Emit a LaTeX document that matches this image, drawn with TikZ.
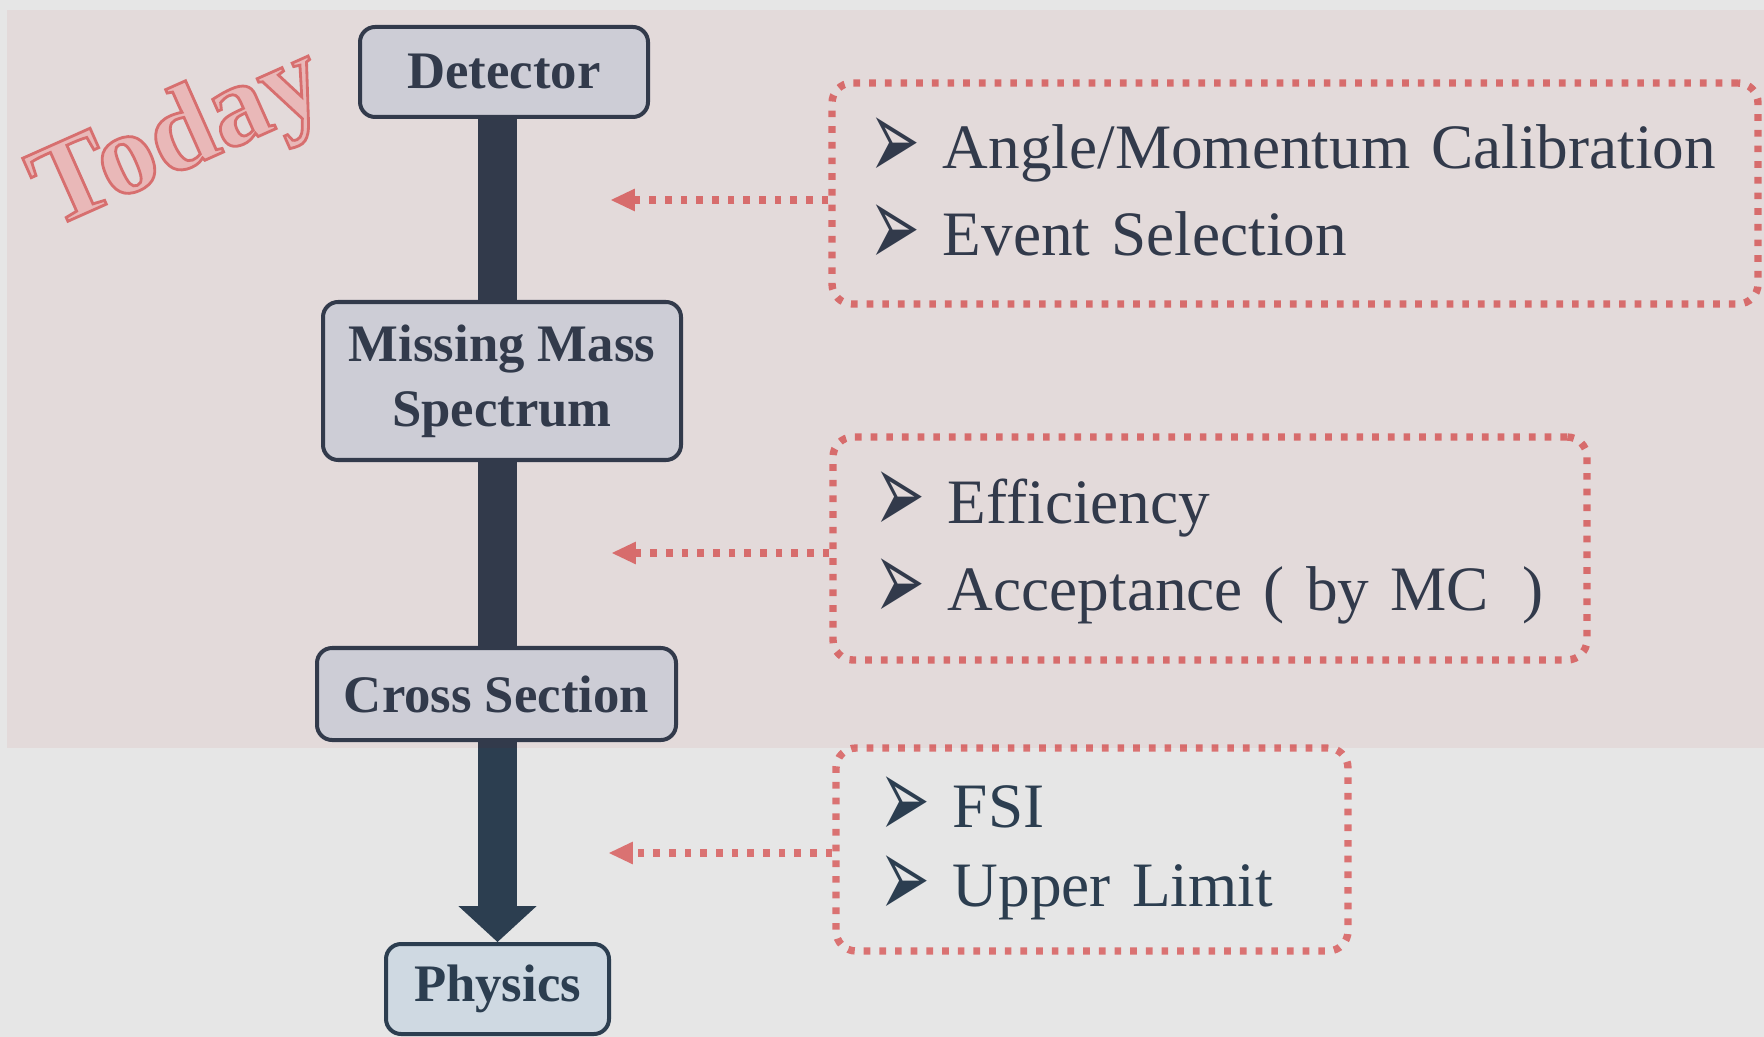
\documentclass[tikz,border=0pt]{standalone}
\usepackage{fontspec}
\usepackage{graphicx}
\setmainfont{Liberation Serif}
\newfontfamily\dingfont{DejaVu Sans}
\usetikzlibrary{arrows.meta,backgrounds}

\definecolor{ink}{HTML}{2C3E50}
\definecolor{boxfill}{HTML}{CFD9E2}
\definecolor{paper}{HTML}{E6E6E6}
\definecolor{hint}{HTML}{DA7272}
\definecolor{tint}{RGB}{173,0,0}

% arrowhead bullet for the note lists
\newcommand{\bitem}[1]{\mbox{\makebox[19.3pt][l]{\hspace*{-1.5pt}\raisebox{-3.1pt}{\scalebox{1.15}[2.2]{\dingfont\fontsize{15pt}{15pt}\selectfont ➢}}}#1}}
% outlined lettering (fill + stroke render mode)
\newcommand{\hollow}[1]{\special{pdf:literal direct 2 Tr 0.8 w 0.855 0.46 0.46 RG 0.93 0.76 0.76 rg}#1\special{pdf:literal direct 0 Tr}}

\begin{document}
\begin{tikzpicture}[
   stagebox/.style={draw=ink,line width=1.14pt,fill=boxfill,rounded corners=4.3pt,
     text=ink,font=\bfseries\fontsize{15pt}{18.5pt}\selectfont,align=center,inner sep=0pt},
   notebox/.style={draw=hint,line width=2.1pt,dash pattern=on 1.9pt off 2.56pt,
     rounded corners=5.7pt,text=ink,font=\fontsize{18pt}{24.75pt}\selectfont,
     align=left,inner ysep=0pt},
   hintarrow/.style={hint,line width=2.1pt,dash pattern=on 1.9pt off 2.56pt,
     -{Triangle[length=6.8pt,width=6.5pt,line width=0pt]}},
   flow/.style={ink,line width=11.1pt,-{Triangle[length=10.2pt,width=22.2pt,line width=0pt]}}]
  \useasboundingbox (0,0) rectangle (17.64,-10.37);
  \begin{scope}[on background layer]
    \fill[paper] (0,0) rectangle (17.64,-10.37);
  \end{scope}
  % analysis chain
  \node[stagebox,minimum width=2.88cm,minimum height=0.90cm] (detector) at (5.04,-0.72) {Detector};
  \node[stagebox,minimum width=3.58cm,minimum height=1.58cm] (spectrum) at (5.02,-3.81) {Missing Mass\\Spectrum};
  \node[stagebox,minimum width=3.59cm,minimum height=0.92cm] (xsec) at (4.965,-6.94) {Cross Section};
  \node[stagebox,minimum width=2.23cm,minimum height=0.90cm] (physics) at (4.975,-9.89) {Physics};
  \begin{scope}[on background layer]
    \draw[flow] (detector.south -| physics.north) -- (physics.north);
  \end{scope}
  % notes
  \node[notebox,text width=8.40cm,inner xsep=0.43cm,minimum height=2.21cm] (calib) at (12.95,-1.935)
    {\bitem{Angle/Momentum Calibration}\\\bitem{Event Selection}\rule[-4pt]{0pt}{0pt}};
  \node[notebox,text width=6.60cm,inner xsep=0.47cm,minimum height=2.23cm] (effic) at (12.10,-5.485)
    {\bitem{Efficiency}\\\bitem{Acceptance ( by MC~\hspace{3.5pt})}\rule[-4.2pt]{0pt}{0pt}};
  \node[notebox,text width=4.14cm,inner xsep=0.49cm,minimum height=2.03cm,
    font=\fontsize{18pt}{22.4pt}\selectfont] (fsi) at (10.92,-8.495)
    {\bitem{FSI}\\\bitem{Upper Limit}\rule[-4.6pt]{0pt}{0pt}};
  \coordinate (calEnd) at (6.11,-2.00);
  \coordinate (efficEnd) at (6.12,-5.53);
  \coordinate (fsiEnd) at (6.09,-8.53);
  \draw[hintarrow] (calEnd -| calib.west) -- (calEnd);
  \draw[hintarrow] (efficEnd -| effic.west) -- (efficEnd);
  \draw[hintarrow] (fsiEnd -| fsi.west) -- (fsiEnd);
  % stamp and shaded band
  \node[rotate=24,font=\bfseries\fontsize{33pt}{33pt}\selectfont,inner sep=0pt] (today) at (1.80,-1.41) {\hollow{Today}};
  \fill[tint,opacity=0.052] (0.07,-0.10) rectangle (17.64,-7.48);
\end{tikzpicture}
\end{document}
